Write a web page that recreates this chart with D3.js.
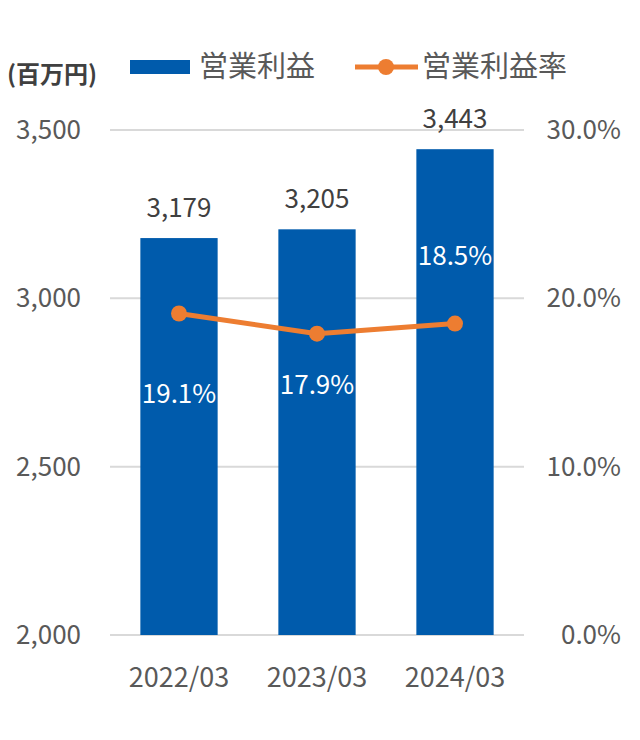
<!DOCTYPE html>
<html lang="ja">
<head>
<meta charset="UTF-8" />
<title>営業利益</title>
<script src="https://d3js.org/d3.v7.min.js"></script>
<style>
  body { margin: 0; background: #fff; }
  text { font-family: "Noto Sans CJK JP", "Noto Sans", sans-serif; fill: #595959; }
</style>
</head>
<body>
<svg id="chart"></svg>
<script>
const years = ['2022/03', '2023/03', '2024/03']
const profit = [3179, 3205, 3443]
const margin = [19.1, 17.9, 18.5]
const leftTicks = [2000, 2500, 3000, 3500]
const rightTicks = [0, 10, 20, 30]
// vertical nudge for the % labels, like the original
const pctLabelDy = [80, 51, -68]

const width = 640, height = 740
const plot = { left: 110, right: 524, top: 130, bottom: 635 }

const svg = d3.select('#chart').attr('width', width).attr('height', height)

const x = d3.scaleBand().domain(years).range([plot.left, plot.right]).paddingInner(0.44).paddingOuter(0.22)
const yL = d3.scaleLinear().domain([2000, 3500]).range([plot.bottom, plot.top])
const yR = d3.scaleLinear().domain([0, 30]).range([plot.bottom, plot.top])

// grid
svg.append('g').selectAll('line').data(leftTicks).join('line')
  .attr('x1', plot.left).attr('x2', plot.right)
  .attr('y1', d => yL(d)).attr('y2', d => yL(d))
  .attr('stroke', '#d9d9d9').attr('stroke-width', 2)

// left axis
svg.append('g').selectAll('text').data(leftTicks).join('text')
  .attr('x', 81).attr('y', d => yL(d)).attr('dy', '0.35em')
  .attr('text-anchor', 'end').attr('font-size', 26)
  .text(d => d3.format(',')(d))

// right axis
svg.append('g').selectAll('text').data(rightTicks).join('text')
  .attr('x', 621).attr('y', d => yR(d)).attr('dy', '0.35em')
  .attr('text-anchor', 'end').attr('font-size', 26)
  .text(d => d.toFixed(1) + '%')

// x labels
svg.append('g').selectAll('text').data(years).join('text')
  .attr('x', d => x(d) + x.bandwidth() / 2).attr('y', 678).attr('dy', '0.35em')
  .attr('text-anchor', 'middle').attr('font-size', 27)
  .text(d => d)

// bars
svg.append('g').selectAll('rect').data(profit).join('rect')
  .attr('x', (d, i) => x(years[i])).attr('width', x.bandwidth())
  .attr('y', d => yL(d)).attr('height', d => yL(2000) - yL(d))
  .attr('fill', '#005bac')

svg.append('g').selectAll('text').data(profit).join('text')
  .attr('x', (d, i) => x(years[i]) + x.bandwidth() / 2)
  .attr('y', d => yL(d) - 30).attr('dy', '0.35em')
  .attr('text-anchor', 'middle').attr('font-size', 26).style('fill', '#404040')
  .text(d => d3.format(',')(d))

// line
const cx = i => x(years[i]) + x.bandwidth() / 2
svg.append('path').datum(margin)
  .attr('d', d3.line().x((d, i) => cx(i)).y(d => yR(d)))
  .attr('fill', 'none').attr('stroke', '#ed7d31').attr('stroke-width', 5)

svg.append('g').selectAll('circle').data(margin).join('circle')
  .attr('cx', (d, i) => cx(i)).attr('cy', d => yR(d)).attr('r', 8)
  .attr('fill', '#ed7d31')

svg.append('g').selectAll('text').data(margin).join('text')
  .attr('x', (d, i) => cx(i)).attr('y', (d, i) => yR(d) + pctLabelDy[i]).attr('dy', '0.35em')
  .attr('text-anchor', 'middle').attr('font-size', 26).style('fill', '#fff')
  .text(d => d.toFixed(1) + '%')

// unit + legend
svg.append('text').attr('x', 7).attr('y', 75).attr('dy', '0.35em')
  .attr('font-size', 24).attr('font-weight', 'bold').style('fill', '#404040')
  .text('(百万円)')

const lg = svg.append('g')
lg.append('rect').attr('x', 130).attr('y', 60).attr('width', 60).attr('height', 14).attr('fill', '#005bac')
lg.append('text').attr('x', 199).attr('y', 67).attr('dy', '0.35em').attr('font-size', 29).text('営業利益')
lg.append('line').attr('x1', 355).attr('x2', 418).attr('y1', 67).attr('y2', 67)
  .attr('stroke', '#ed7d31').attr('stroke-width', 5)
lg.append('circle').attr('cx', 386).attr('cy', 67).attr('r', 8).attr('fill', '#ed7d31')
lg.append('text').attr('x', 422).attr('y', 67).attr('dy', '0.35em').attr('font-size', 29).text('営業利益率')
</script>
</body>
</html>
